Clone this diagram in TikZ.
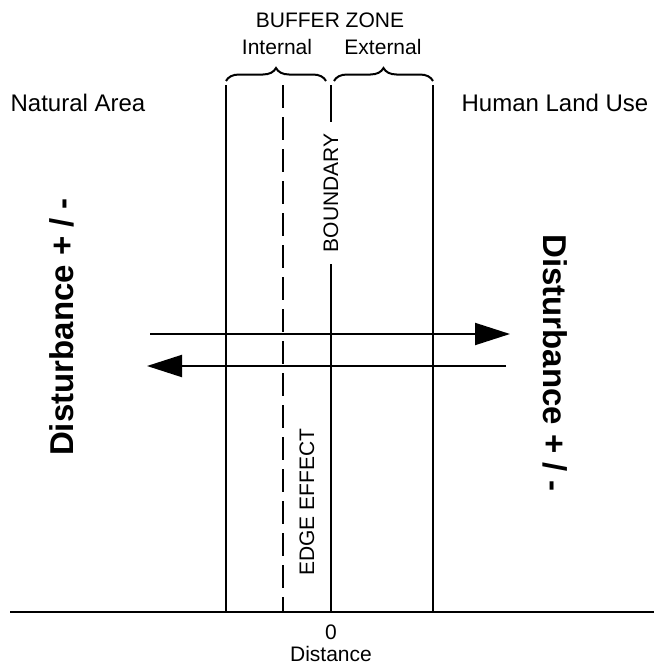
\documentclass[tikz,border=0pt]{standalone}
\usepackage{fontspec}
\setmainfont{Liberation Sans}
\usepackage{tikz}
\usetikzlibrary{positioning,arrows.meta,decorations.pathreplacing}

\begin{document}
\begin{tikzpicture}[
    x=0.5pt, y=-0.5pt,
    % --- vertical zone limits and the distance axis ---
    zone/.style={black, line width=1pt},
    edge/.style={black, line width=1pt, dash pattern=on 11.5pt off 4.5pt},
    % --- the two disturbance flows ---
    flow/.style={-{Triangle[length=17.5pt,width=11pt]}, black, line width=1pt},
    % --- texts ---
    small/.style={font=\fontsize{10.5}{12}\selectfont, inner sep=1pt},
    area/.style={font=\fontsize{12}{14}\selectfont, inner sep=1pt},
    dist/.style={font=\fontsize{16.5}{19}\selectfont\bfseries, inner sep=1pt},
    brc/.style={decorate, decoration={brace, amplitude=6.5pt}, black, line width=1pt},
  ]
  \useasboundingbox (0,0) rectangle (654,664);

  % ---- distance axis ------------------------------------------------------
  \coordinate (axisL) at (10,612);
  \coordinate (axisR) at (654,612);
  \draw[zone] (axisL) -- (axisR);
  \node[small] (zero) at (331,632) {0};
  \node[small] (distance) at (331,654) {Distance};

  % ---- zone limits --------------------------------------------------------
  \coordinate (inTop) at (226,85);   \coordinate (inBot) at (226,612);
  \coordinate (edTop) at (283,85);   \coordinate (edBot) at (283,612);
  \coordinate (bdTop) at (331,85);   \coordinate (bdBot) at (331,612);
  \coordinate (exTop) at (433,85);   \coordinate (exBot) at (433,612);
  \draw[zone] (inTop) -- (inBot);
  \draw[edge] (edTop) -- (edBot);
  \draw[zone] (bdTop) -- (bdBot);
  \draw[zone] (exTop) -- (exBot);

  \node[small, rotate=90, fill=white, inner sep=6pt] (boundary) at (331,193) {BOUNDARY};
  \node[small, rotate=90] (edgeeffect) at (307,502) {EDGE EFFECT};

  % ---- buffer zone braces -------------------------------------------------
  \coordinate (brInL) at (226,81);  \coordinate (brInR) at (326,81);
  \coordinate (brExL) at (334,81);  \coordinate (brExR) at (433,81);
  \draw[brc] (brInL) -- (brInR);
  \draw[brc] (brExL) -- (brExR);
  \node[small] (internal) at (277,47) {Internal};
  \node[small] (external) at (383,47) {External};
  \node[small] (buffer) at (330,20) {BUFFER ZONE};

  % ---- land on both sides -------------------------------------------------
  \node[area] (natural) at (78,103) {Natural Area};
  \node[area] (human) at (555,103) {Human Land Use};

  % ---- disturbance flows --------------------------------------------------
  \coordinate (upL) at (150,334);  \coordinate (upR) at (510,334);
  \coordinate (loL) at (147,366);  \coordinate (loR) at (506,366);
  \draw[flow] (upL) -- (upR);
  \draw[flow] (loR) -- (loL);

  \node[dist, rotate=90] (distL) at (62,327) {Disturbance + / -};
  \node[dist, rotate=-90] (distR) at (555,363) {Disturbance + / -};

\end{tikzpicture}
\end{document}
